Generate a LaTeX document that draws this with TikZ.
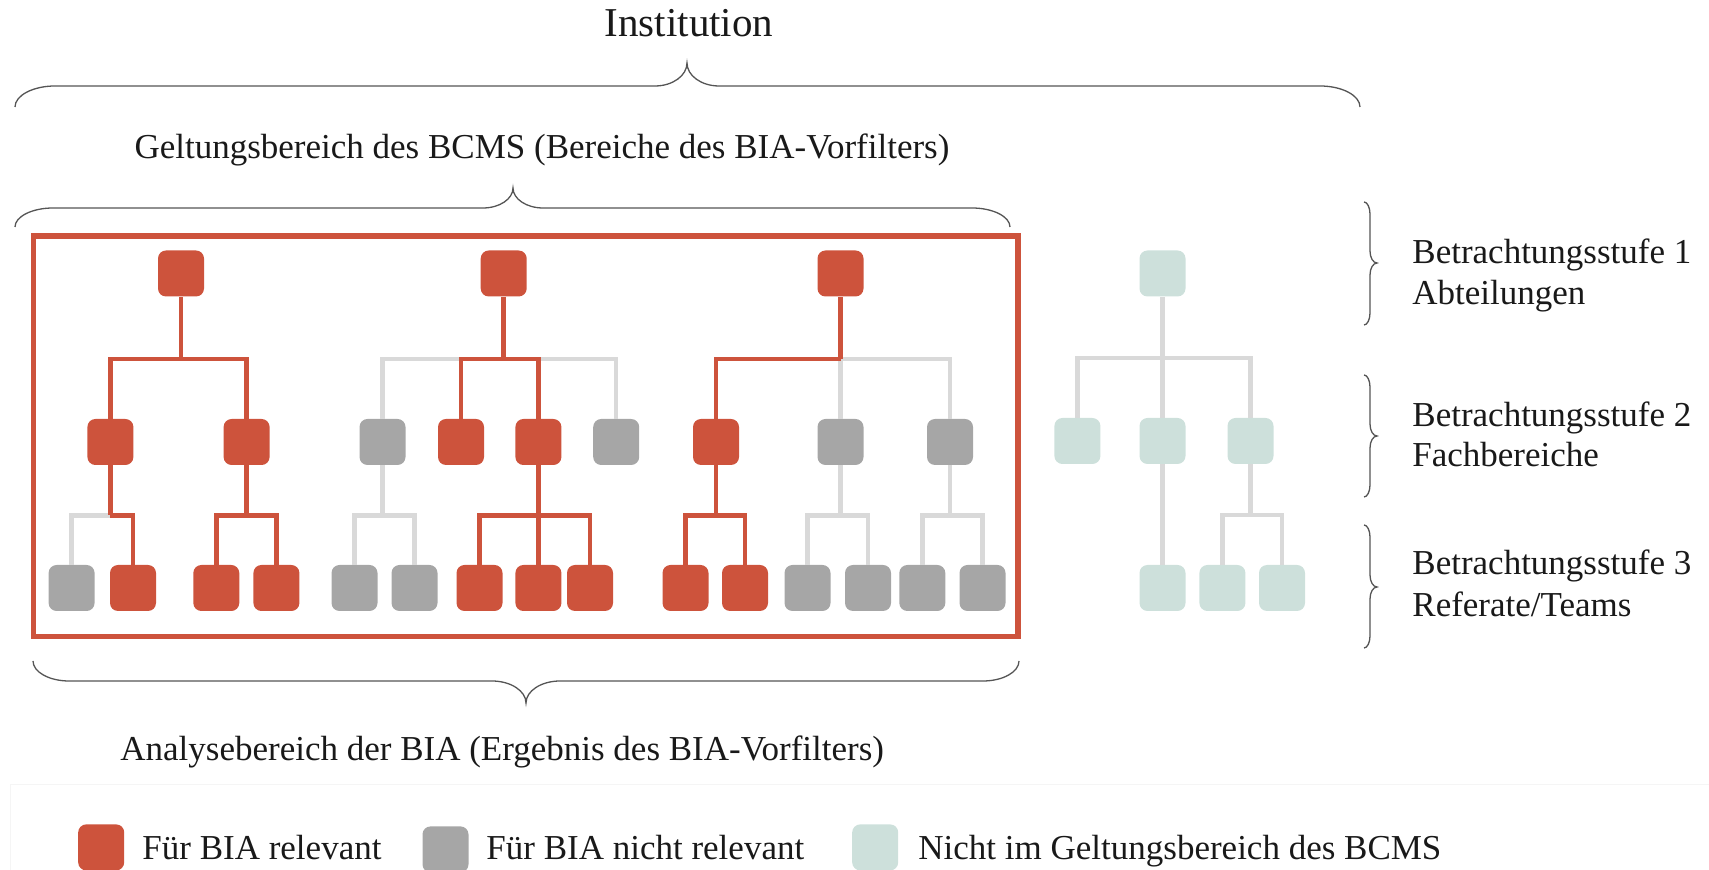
\documentclass[tikz,border=0pt]{standalone}
\usepackage{fontspec}
\setmainfont{Liberation Serif}
\definecolor{relred}{RGB}{205,83,60}
\definecolor{irrgrey}{RGB}{166,166,166}
\definecolor{outteal}{RGB}{205,224,219}
\definecolor{linegrey}{RGB}{217,217,217}
\definecolor{bracegrey}{RGB}{85,85,85}
\definecolor{inkblack}{RGB}{25,25,25}

% horizontal curly brace: x1, x2, tip x, end y, straight y, tip y, end curl, cusp half width
\newcommand{\hcurly}[8]{%
  \draw[bracestyle] (#1,#4) .. controls (#1,{#4+0.55*(#5-#4)}) and ({#1+0.45*#7},#5) .. ({#1+#7},#5)
    -- ({#3-#8},#5) .. controls ({#3-0.45*#8},#5) and (#3,{#5+0.45*(#6-#5)}) .. (#3,#6)
    .. controls (#3,{#5+0.45*(#6-#5)}) and ({#3+0.45*#8},#5) .. ({#3+#8},#5)
    -- ({#2-#7},#5) .. controls ({#2-0.45*#7},#5) and (#2,{#4+0.55*(#5-#4)}) .. (#2,#4);}
% vertical curly brace: end x, straight x, tip x, y1, y2, tip y, end curl, cusp half height
\newcommand{\vcurly}[8]{%
  \draw[bracestyle] (#1,#4) .. controls ({#1+0.55*(#2-#1)},#4) and (#2,{#4+0.45*#7}) .. (#2,{#4+#7})
    -- (#2,{#6-#8}) .. controls (#2,{#6-0.45*#8}) and ({#2+0.45*(#3-#2)},#6) .. (#3,#6)
    .. controls ({#2+0.45*(#3-#2)},#6) and (#2,{#6+0.45*#8}) .. (#2,{#6+#8})
    -- (#2,{#5-#7}) .. controls (#2,{#5-0.45*#7}) and ({#1+0.55*(#2-#1)},#5) .. (#1,#5);}

\begin{document}
\begin{tikzpicture}[x=0.5pt,y=-0.5pt,
  box/.style={rectangle, minimum width=23pt, minimum height=23pt, inner sep=0pt, rounded corners=4pt},
  relbox/.style={box, fill=relred},
  irrbox/.style={box, fill=irrgrey},
  extbox/.style={box, fill=outteal},
  redlink/.style={draw=relred, line width=2.25pt},
  greylink/.style={draw=linegrey, line width=2.25pt},
  bracestyle/.style={draw=bracegrey, line width=0.65pt},
  lbl/.style={font=\fontsize{17.5}{21}\selectfont, inner sep=0pt, text=inkblack},
  title/.style={font=\fontsize{20.5}{24}\selectfont, inner sep=0pt, text=inkblack}]

\useasboundingbox (0,0) rectangle (1709,870);
\clip (0,0) rectangle (1709,870);

% ---------- top labels and braces ----------
\node[title, anchor=base] (inst) at (689,37) {Institution};
\hcurly{15}{1360}{687}{107}{86}{63}{40}{32}

\node[lbl, anchor=base] (scope) at (542,159) {Geltungsbereich des BCMS (Bereiche des BIA-Vorfilters)};
\hcurly{15}{1010}{513}{227}{208}{188}{38}{30}

% ---------- analysis frame ----------
\draw[relred, line width=2.75pt] (33.5,236) rectangle (1018,636.5);

\hcurly{33}{1019}{526}{661}{681}{703}{36}{34}
\node[lbl, anchor=base west] (analysis) at (120,761) {Analysebereich der BIA (Ergebnis des BIA-Vorfilters)};

% ---------- level braces and labels ----------
\vcurly{1364}{1370}{1377}{202}{325}{263}{12}{12}
\vcurly{1364}{1370}{1377}{375}{497}{436}{12}{12}
\vcurly{1364}{1370}{1377}{525}{648}{587}{12}{12}
\node[lbl, anchor=base west] (lvl1) at (1412,264) {Betrachtungsstufe 1};
\node[lbl, anchor=base west] (lvl1b) at (1412,305) {Abteilungen};
\node[lbl, anchor=base west] (lvl2) at (1412,427) {Betrachtungsstufe 2};
\node[lbl, anchor=base west] (lvl2b) at (1412,467) {Fachbereiche};
\node[lbl, anchor=base west] (lvl3) at (1412,575) {Betrachtungsstufe 3};
\node[lbl, anchor=base west] (lvl3b) at (1412,617) {Referate/Teams};

% ---------- organisational units ----------
% tree A
\node[relbox] (A) at (181,273.5) {};
\node[relbox] (A1) at (110.4,442) {};
\node[relbox] (A2) at (246.6,442) {};
\node[irrbox] (A1a) at (71.6,588) {};
\node[relbox] (A1b) at (133,588) {};
\node[relbox] (A2a) at (216.3,588) {};
\node[relbox] (A2b) at (276.4,588) {};
% tree B
\node[relbox] (B) at (503.7,273.5) {};
\node[irrbox] (B1) at (382.5,442) {};
\node[relbox] (B2) at (461,442) {};
\node[relbox] (B3) at (538.4,442) {};
\node[irrbox] (B4) at (616.2,442) {};
\node[irrbox] (B1a) at (354.5,588) {};
\node[irrbox] (B1b) at (414.5,588) {};
\node[relbox] (B3a) at (479.5,588) {};
\node[relbox] (B3b) at (538.4,588) {};
\node[relbox] (B3c) at (590,588) {};
% tree C
\node[relbox] (C) at (840.5,273.5) {};
\node[relbox] (C1) at (716,442) {};
\node[irrbox] (C2) at (840.5,442) {};
\node[irrbox] (C3) at (950,442) {};
\node[relbox] (C1a) at (685.5,588) {};
\node[relbox] (C1b) at (745,588) {};
\node[irrbox] (C2a) at (807.5,588) {};
\node[irrbox] (C2b) at (868,588) {};
\node[irrbox] (C3a) at (922.3,588) {};
\node[irrbox] (C3b) at (982.5,588) {};
% tree D (outside the BCMS scope)
\node[extbox] (D) at (1162.5,273.5) {};
\node[extbox] (D1) at (1077.4,441) {};
\node[extbox] (D2) at (1162.5,441) {};
\node[extbox] (D3) at (1250.5,441) {};
\node[extbox] (D2a) at (1162.5,588) {};
\node[extbox] (D3a) at (1222.4,588) {};
\node[extbox] (D3b) at (1282,588) {};

% bus points
\coordinate (Abus) at (181,359);
\coordinate (A1bus) at (110.4,515.5);
\coordinate (A2bus) at (246.6,515.5);
\coordinate (Bbus) at (503.7,359);
\coordinate (B1bus) at (382.5,515.5);
\coordinate (B3bus) at (538.4,515.5);
\coordinate (Cbus) at (840.5,359);
\coordinate (C1bus) at (716,515.5);
\coordinate (C2bus) at (840.5,515.5);
\coordinate (C3bus) at (950,515.5);
\coordinate (Dbus) at (1162.5,358);
\coordinate (D3bus) at (1250.5,515);

% ---------- connectors: not relevant ----------
\draw[greylink] (A1bus) -| (A1a);
\draw[greylink] (Bbus) -| (B1);
\draw[greylink] (Bbus) -| (B4);
\draw[greylink] (B1) -- (B1bus);
\draw[greylink] (B1bus) -| (B1a);
\draw[greylink] (B1bus) -| (B1b);
\draw[greylink] (Cbus) -- (C2);
\draw[greylink] (Cbus) -| (C3);
\draw[greylink] (C2) -- (C2bus);
\draw[greylink] (C2bus) -| (C2a);
\draw[greylink] (C2bus) -| (C2b);
\draw[greylink] (C3) -- (C3bus);
\draw[greylink] (C3bus) -| (C3a);
\draw[greylink] (C3bus) -| (C3b);
\draw[greylink] (D) -- (Dbus);
\draw[greylink] (Dbus) -| (D1);
\draw[greylink] (Dbus) -- (D2);
\draw[greylink] (Dbus) -| (D3);
\draw[greylink] (D2) -- (D2a);
\draw[greylink] (D3) -- (D3bus);
\draw[greylink] (D3bus) -| (D3a);
\draw[greylink] (D3bus) -| (D3b);

% ---------- connectors: relevant ----------
\draw[redlink] (A) -- (Abus);
\draw[redlink] (Abus) -| (A1);
\draw[redlink] (Abus) -| (A2);
\draw[redlink] (A1) -- (A1bus);
\draw[redlink] (A1bus) -| (A1b);
\draw[redlink] (A2) -- (A2bus);
\draw[redlink] (A2bus) -| (A2a);
\draw[redlink] (A2bus) -| (A2b);
\draw[redlink] (B) -- (Bbus);
\draw[redlink] (Bbus) -| (B2);
\draw[redlink] (Bbus) -| (B3);
\draw[redlink] (B3) -- (B3bus);
\draw[redlink] (B3bus) -| (B3a);
\draw[redlink] (B3bus) -- (B3b);
\draw[redlink] (B3bus) -| (B3c);
\draw[redlink] (C) -- (Cbus);
\draw[redlink] (Cbus) -| (C1);
\draw[redlink] (C1) -- (C1bus);
\draw[redlink] (C1bus) -| (C1a);
\draw[redlink] (C1bus) -| (C1b);

% ---------- legend ----------
\draw[black!4, line width=0.5pt] (10,870) |- (1709,785);
\node[relbox, anchor=north] (keyrel) at (101.2,824) {};
\node[lbl, anchor=base west] (keyreltxt) at (142,860) {Für BIA relevant};
\node[irrbox, anchor=north] (keyirr) at (445.5,826) {};
\node[lbl, anchor=base west] (keyirrtxt) at (486,860) {Für BIA nicht relevant};
\node[extbox, anchor=north] (keyext) at (875.2,824) {};
\node[lbl, anchor=base west] (keyexttxt) at (918,860) {Nicht im Geltungsbereich des BCMS};
\end{tikzpicture}
\end{document}
